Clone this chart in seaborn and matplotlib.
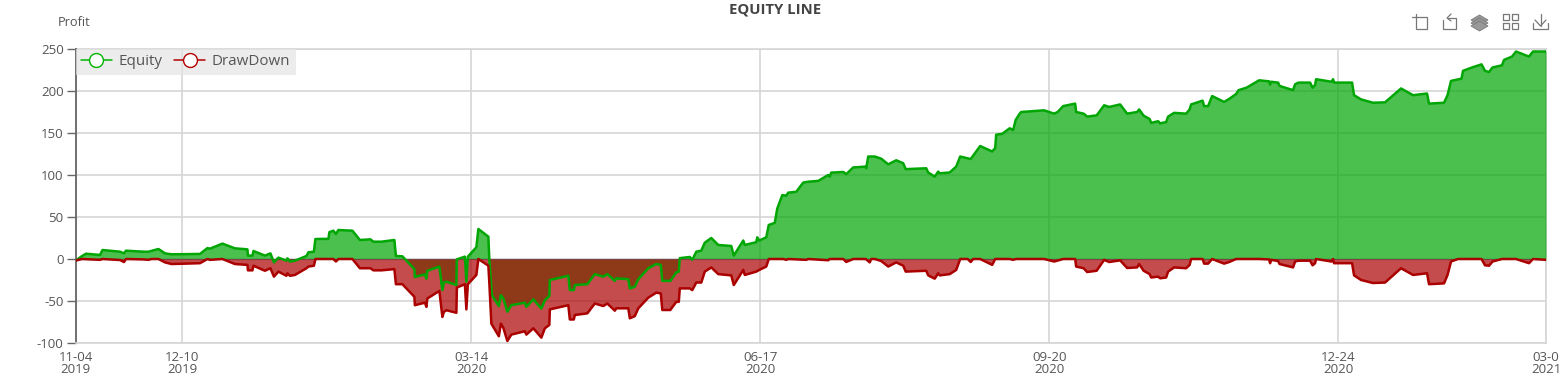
import matplotlib
matplotlib.use("Agg")
import matplotlib.pyplot as plt
from matplotlib.lines import Line2D
from matplotlib.patches import Polygon
from matplotlib.transforms import Affine2D
import pandas as pd
import seaborn as sns

tick_bars = [0, 107, 396, 685, 974, 1263, 1471]
tick_labels = ["11-04\n2019", "12-10\n2019", "03-14\n2020", "06-17\n2020", "09-20\n2020", "12-24\n2020", "03-0\n2021"]
y_ticks = [-100, -50, 0, 50, 100, 150, 200, 250]

equity_bar = [0,6.5,10.5,24.5,27,44.5,48.5,50.5,68,73,83,89.5,96,124.5,132,134.5,147,159.5,172,172.5,177,178,189.5,195,198.5,203,211,212,214.5,219.5,231,233,238.5,240,253,254,258,260.5,263,277,284.5,295,298,306,319,320.5,327,339,339.5,349.5,351,352,364,367,368.5,371,381,381.5,389.5,391,392.5,401,403,413,414,416.5,423.5,425.5,428,432,436,449.5,451,458,466,469.5,474,474.5,493,494.5,498.5,499.5,512,519.5,528,532,539.5,541,553,554.5,559.5,563,573,581,585.5,587,595,601,603.5,604.5,614.5,617,621,626,629.5,636,643,656,658.5,668,669.5,681,682,684,691,693.5,699.5,702,707,711,713,721,728,733,743,753,754.5,756,768,771,778,790.5,791,793,799.5,806,813,821,828,830.5,851,853,859.5,863,864.5,874.5,881,885,895.5,905,917,920,921,927,934.5,938,940.5,944.5,946,969,979,982.5,988,1000,1001,1008.5,1012,1021.5,1029,1034,1045,1052,1062,1064,1068.5,1074.5,1076,1083,1085,1091,1093,1099,1111,1114.5,1116,1127.5,1129,1133,1137,1149,1154,1161,1163.5,1171.5,1184,1194,1195,1196,1203,1204.5,1218,1220,1223.5,1235,1237.5,1240,1241,1256.5,1258,1259,1277,1279,1286,1298,1310,1326,1338,1352,1354,1369,1372.5,1376,1386.5,1388,1397,1406.5,1410,1414,1417.5,1427,1429,1437,1441,1454,1458,1471]
equity_val = [-2,3.5,6.3,4.8,10.7,8.7,6.7,9.9,8.7,8.7,11.9,6.7,5.6,6,13,12.3,18.3,12.7,11.5,4,4,9.5,4,6.7,-4,1.6,-2,0.8,-3,-2,3.6,8,8.7,23.8,24,32,33.7,29.7,34.5,33.7,22.6,23.4,20.6,20.6,22.6,3.6,3.2,-12,-21.4,-18.3,-23.4,-14,-9,-36.9,-28,-27,-31,-0.4,2.8,-27,2.8,14,35.7,26.6,-1,-43,-56,-43,-47,-62.7,-55,-52,-57,-48,-59,-49,-44,-25,-20,-37,-37,-31,-30,-18,-21,-18,-26,-23,-24,-35,-33,-24,-11,-6,-7,-26,-26,-16,-15,1,2.4,-1,8.7,10,19.4,25,16.7,15.5,4,22,16.7,20,25.8,22,25.8,40.5,43,60,76,75.4,79,80,91,92,93,100,98,102.8,103.6,101,109,110,108,122,122,119.4,112.7,117.5,114,107,108,103,98,104,102,103,110,122,119,134.5,128,132,148,149,155.6,153.6,165.5,173,175,177,173,175,182,185,175,173,169.5,171,183,181,184,173,175,178,170.6,166.7,162,164,161.5,163,169.5,174,173,178,184,188.5,182,182,194,187,190.5,196.4,201,204,212.7,211.5,207.5,211,210,206,201,208,210,210,204,207,214,211,214,210,210,195,190,186,186.5,203,195,197,185,186,195,212,214.7,224,228,231.7,224,222.6,228,230.6,237,241,247,241,247,247]

drawdown_bar = [0,6.5,24.5,27,44.5,48.5,50.5,68,73,76,83,89.5,96,124.5,132,134.5,147,159.5,172,172.5,177,178,189.5,195,198.5,203,211,212,214.5,219.5,231,233,238.5,240,253,258,260.5,263,277,284.5,295,298,306,319,320.5,327,339,339.5,349.5,351,352,364,367,368.5,371,381,381.5,389.5,391,392.5,401,403,413,414,416,423.5,425.5,428,432,436,449.5,451,458,466,469.5,474,474.5,493,494.5,498.5,499.5,512,519.5,528,532,539.5,541,553,554.5,559.5,563,573,581,585.5,587,595,601,603.5,604.5,614.5,617,621,626,629.5,636,643,656,658.5,668,669.5,681,684,691,693.5,708,711,713,731,733,753,754.5,768,771,778,790.5,794.5,796,799.5,806,813,821,828,830.5,851,853,859.5,863,864.5,874.5,881,885,892.5,895.5,898,905,917,920,934.5,938,940.5,969,979,988,1000,1001,1008.5,1012,1021.5,1029,1034,1045,1052,1062,1064,1068.5,1074.5,1076,1083,1085,1091,1093,1099,1111,1114.5,1116,1127.5,1129,1133,1137,1149,1154,1161,1184,1194,1195,1196,1203,1204.5,1218,1220,1223.5,1235,1237.5,1240,1241,1256.5,1258,1259,1277,1279,1286,1298,1310,1326,1338,1352,1354,1369,1372.5,1376,1383,1406.5,1410,1414,1417.5,1427,1437,1441,1454,1458,1471]
drawdown_val = [-2,0,-1,0,-1.2,-3.6,0,-0.5,-1,0,0,-4,-6,-5,0,-1,0,-6,-7,-13.5,-13.5,-8,-14,-11,-21,-15,-20,-17,-20,-19,-11,-9,-8,0,0,0,-3,0,0,-11,-11,-13.5,-13.5,-12,-30,-30,-45,-55,-52,-57,-47,-38,-69,-63,-61,-64,-34,-30,-60,-30,-19,0,-8,-29,-77,-92,-77,-82,-97.6,-90,-86,-90,-82.5,-93.6,-82.5,-78.5,-60,-55,-72,-72,-66.7,-64.7,-53,-56,-53,-61.5,-58.7,-58.7,-70.6,-68,-58.7,-46,-40,-41,-60.7,-60.7,-51,-51,-35,-35,-37,-28,-28,-15,-10,-18,-19.5,-31,-13,-19,-15,-13,-9,0,0,-1,0,-1,0,-1.5,0,0,-3.5,0,0,-4,0,0,-2.4,-9,-4,-8,-15,-14,-19.5,-23.4,-17,-19.5,-18,-13,0,0,-3.6,0,0,-7,0,0,-1,0,0,-3,0,0,-9,-11,-15.5,-14,-1,-3.6,-1.6,-10.7,-10,-6,-14,-18,-22,-21,-23,-22,-15,-10,-11,-7,0,0,-5.5,-5.5,0,-5.5,-3.6,0,0,-0.5,-5,-1,-2.4,-6,-10,-3,-2,-2,-7.5,-5,0,-3,0,-5,-5,-19.5,-25,-28.6,-28,-11,-19,-17,-30,-29,-19,-3,0,0,-7.5,-8,-3,0,0,0,-5,0,-1]

EQ_COLOR = (0, 166 / 255, 4 / 255)
DD_COLOR = (171 / 255, 0, 0)
TEXT = "#555555"
GRID = "#d6d6d6"

W, H = 1562, 392
sns.set_theme(style="white")
plt.rcParams["font.family"] = ["Open Sans", "DejaVu Sans"]
plt.rcParams["axes.unicode_minus"] = False

fig = plt.figure(figsize=(W / 100, H / 100), dpi=100, facecolor="white")
L, R, T, B = 75.5, 1546, 49, 343
ax = fig.add_axes([L / W, 1 - B / H, (R - L) / W, (B - T) / H])

eq_df = pd.DataFrame({"bar": equity_bar, "profit": equity_val})
dd_df = pd.DataFrame({"bar": drawdown_bar, "profit": drawdown_val})

ax.fill_between(eq_df["bar"], eq_df["profit"], 0, color=EQ_COLOR, alpha=0.7, lw=0, zorder=3)
ax.axhline(0, color="#666666", lw=0.8, zorder=3.2)
ax.fill_between(dd_df["bar"], dd_df["profit"], 0, color=DD_COLOR, alpha=0.7, lw=0, zorder=3.5)
sns.lineplot(data=eq_df, x="bar", y="profit", ax=ax, color=EQ_COLOR, lw=1.8, estimator=None,
             sort=False, zorder=4, legend=False, solid_joinstyle="round")
sns.lineplot(data=dd_df, x="bar", y="profit", ax=ax, color=DD_COLOR, lw=1.8, estimator=None,
             sort=False, zorder=4.5, legend=False, solid_joinstyle="round")

ax.set_xlim(0, 1470.5)
ax.set_ylim(-100, 250)
ax.set_xlabel("")
ax.set_ylabel("")
ax.set_yticks(y_ticks)
ax.set_xticks(tick_bars)
ax.set_xticklabels(tick_labels, linespacing=0.88)
ax.tick_params(axis="y", length=6.5, width=1, color="#666666", labelsize=9.5, labelcolor=TEXT, pad=2, left=True)
ax.tick_params(axis="x", length=0, labelsize=9.5, labelcolor=TEXT, pad=6)
for lab in ax.get_xticklabels():
    lab.set_clip_on(False)
ax.grid(True, color=GRID, lw=1.2, zorder=1)
ax.set_axisbelow(True)
for s in ("top", "right", "bottom"):
    ax.spines[s].set_color(GRID)
    ax.spines[s].set_linewidth(1.2)
ax.spines["left"].set_color("#666666")
ax.spines["left"].set_linewidth(1.3)
ax.spines["top"].set_zorder(1)
ax.spines["right"].set_zorder(1)

handles = [
    Line2D([], [], color="#00b400", lw=1.1, marker="o", ms=10, mfc="white", mew=1.0, mec="#00b400", label="Equity"),
    Line2D([], [], color="#b40000", lw=1.1, marker="o", ms=10, mfc="white", mew=1.0, mec="#b40000", label="DrawDown"),
]
leg = ax.legend(handles=handles, loc="upper left", bbox_to_anchor=(0, 1), ncol=2, frameon=True, fancybox=False,
                fontsize=10.9, handlelength=2.05, handletextpad=0.45, columnspacing=0.75, borderaxespad=0,
                borderpad=0.35, labelcolor=TEXT, facecolor="#e4e4e4", edgecolor="none", framealpha=0.7)
leg.set_zorder(6)

fig.text(775 / W, 1 - 9.5 / H, "EQUITY LINE", ha="center", va="center", fontsize=10.7, fontweight="bold", color="#444444")
fig.text(58 / W, 1 - 22 / H, "Profit", ha="left", va="center", fontsize=9.2, color=TEXT)

# toolbox icons, placed in figure pixels
px = Affine2D().scale(1, -1).translate(0, H)
ICON = "#777777"
def stroke(xs, ys, lw=0.9):
    fig.add_artist(Line2D(xs, ys, transform=px, color=ICON, lw=lw, solid_joinstyle="miter"))
# crop
stroke([1412, 1427, 1427, 1416, 1416], [17, 17, 29, 29, 14])
# restore
stroke([1448, 1456, 1456, 1443, 1443], [18, 18, 29, 29, 20])
stroke([1451, 1447, 1451], [14, 18, 21])
# data view stack
for dy in (0, 3, 6):
    fig.add_artist(Polygon([[1471, 21 + dy - 1], [1479.5, 16 + dy - 1], [1488, 21 + dy - 1], [1479.5, 26 + dy - 1]],
                           closed=True, transform=px, facecolor="#999999", edgecolor=ICON, lw=0.6))
# grid
for x0, y0 in ((1503, 14), (1512, 14), (1503, 23), (1512, 23)):
    stroke([x0, x0 + 6, x0 + 6, x0, x0], [y0, y0, y0 + 6, y0 + 6, y0])
# download
stroke([1533, 1533, 1548, 1548], [23, 29, 29, 23])
stroke([1540.5, 1540.5], [14, 26])
stroke([1535, 1540.5, 1546], [20, 26, 20])

fig.savefig("out.png", dpi=100, facecolor="white")
